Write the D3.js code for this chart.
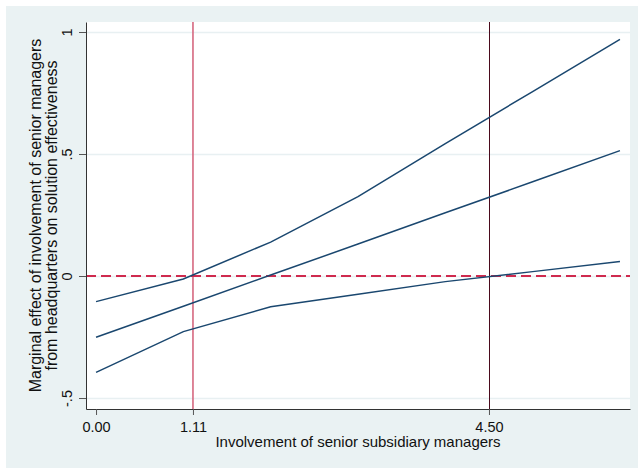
<!DOCTYPE html>
<html>
<head>
<meta charset="utf-8">
<script src="https://cdn.jsdelivr.net/npm/d3@7"></script>
<style>
  body { margin: 0; background: #fff; }
  svg { display: block; font-family: "Liberation Sans", Arial, sans-serif; }
</style>
</head>
<body>
<div id="graph"></div>
<script>
// values
var xVals   = [0, 1, 2, 3, 4, 5, 6];
var upperCI = [-0.105, -0.012, 0.139, 0.325, 0.543, 0.756, 0.970];
var effect  = [-0.251, -0.124, 0.004, 0.131, 0.259, 0.386, 0.514];
var lowerCI = [-0.395, -0.228, -0.126, -0.075, -0.023, 0.018, 0.059];
var yTicks = [-0.5, 0, 0.5, 1];
var yTickText = ["-.5", "0", ".5", "1"];
var xTicks = [0, 1.11, 4.5];
var xTickText = ["0.00", "1.11", "4.50"];
var refX = [1.11, 4.5];

var W = 638, H = 470;
var pL = 86, pR = 630, pT = 22, pB = 409;

var svg = d3.select("#graph").append("svg").attr("width", W).attr("height", H);

// graph region
svg.append("rect").attr("x", 6).attr("y", 6).attr("width", W - 6).attr("height", 462).attr("fill", "#eaf2f3");
svg.append("rect").attr("x", pL).attr("y", pT).attr("width", pR - pL).attr("height", pB - pT).attr("fill", "#fff");

var x = d3.scaleLinear().domain([-0.115, 6.115]).range([pL, pR]);
var y = d3.scaleLinear().domain([-0.545, 1.041]).range([pB, pT]);

// grid
svg.selectAll("line.grid")
  .data(yTicks)
  .enter().append("line")
  .attr("class", "grid")
  .attr("x1", pL).attr("x2", pR)
  .attr("y1", function(d){ return Math.round(y(d)) + 0.5; })
  .attr("y2", function(d){ return Math.round(y(d)) + 0.5; })
  .attr("stroke", "#e8f0f2")
  .attr("stroke-width", 1.3);

// reference lines
svg.append("line")
  .attr("x1", x(refX[0])).attr("x2", x(refX[0]))
  .attr("y1", pT).attr("y2", pB)
  .attr("stroke", "#d5687f").attr("stroke-width", 1.6);
svg.append("line")
  .attr("x1", Math.round(x(refX[1])) + 0.5).attr("x2", Math.round(x(refX[1])) + 0.5)
  .attr("y1", pT).attr("y2", pB)
  .attr("stroke", "#4a0a1c").attr("stroke-width", 1);
svg.append("line")
  .attr("x1", pL).attr("x2", pR)
  .attr("y1", y(0)).attr("y2", y(0))
  .attr("stroke", "#cf2a4e").attr("stroke-width", 1.8)
  .attr("stroke-dasharray", "10,5");

// series
var line = d3.line()
  .x(function(d, i){ return x(xVals[i]); })
  .y(function(d){ return y(d); });

[upperCI, effect, lowerCI].forEach(function(s){
  svg.append("path")
    .attr("d", line(s))
    .attr("fill", "none")
    .attr("stroke", "#1a476f")
    .attr("stroke-width", 1.5);
});

// y axis
var yAxis = svg.append("g")
  .attr("transform", "translate(" + pL + ",0)")
  .call(d3.axisLeft(y).tickValues(yTicks).tickFormat(function(d, i){ return yTickText[i]; }).tickSize(7).tickSizeOuter(0));
yAxis.select(".domain").attr("stroke", "#333");
yAxis.selectAll(".tick line").attr("stroke", "#555");
yAxis.selectAll(".tick text")
  .attr("x", null).attr("dy", null)
  .attr("text-anchor", "middle")
  .attr("transform", "translate(-14,0) rotate(-90)")
  .attr("font-size", "14.5px")
  .attr("fill", "#111")
  .attr("font-family", "Liberation Sans, Arial, sans-serif");

// x axis
var xAxis = svg.append("g")
  .attr("transform", "translate(0," + pB + ")")
  .call(d3.axisBottom(x).tickValues(xTicks).tickFormat(function(d, i){ return xTickText[i]; }).tickSize(6).tickSizeOuter(0));
xAxis.select(".domain").attr("stroke", "#333");
xAxis.selectAll(".tick line").attr("stroke", "#555");
xAxis.selectAll(".tick text")
  .attr("y", 23).attr("dy", null)
  .attr("font-size", "14.5px")
  .attr("fill", "#111")
  .attr("font-family", "Liberation Sans, Arial, sans-serif");

// titles
svg.append("text")
  .attr("x", (pL + pR) / 2).attr("y", 447)
  .attr("text-anchor", "middle")
  .attr("font-size", "15px")
  .attr("fill", "#111")
  .text("Involvement of senior subsidiary managers");

var yt = svg.append("text")
  .attr("transform", "translate(0," + ((pT + pB) / 2) + ") rotate(-90)")
  .attr("text-anchor", "middle")
  .attr("font-size", "16px")
  .attr("fill", "#111");
yt.append("tspan").attr("x", 0).attr("y", 41).text("Marginal effect of involvement of senior managers");
yt.append("tspan").attr("x", 0).attr("y", 57).text("from headquarters on solution effectiveness");
</script>
</body>
</html>
